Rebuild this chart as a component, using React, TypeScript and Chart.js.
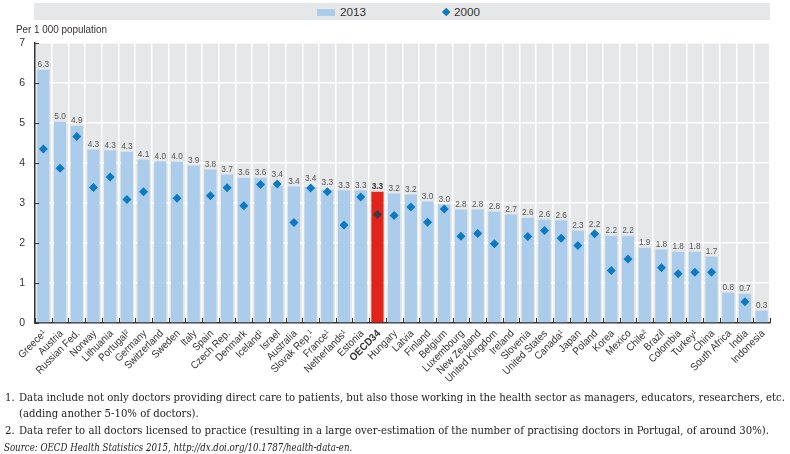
import React, { useEffect, useRef } from "react";
import { Chart, registerables } from "chart.js";

Chart.register(...registerables);

const countries = [
  "Greece¹", "Austria", "Russian Fed.", "Norway", "Lithuania", "Portugal²", "Germany",
  "Switzerland", "Sweden", "Italy", "Spain", "Czech Rep.", "Denmark", "Iceland¹", "Israel",
  "Australia", "Slovak Rep.¹", "France¹", "Netherlands¹", "Estonia", "OECD34", "Hungary",
  "Latvia", "Finland", "Belgium", "Luxembourg", "New Zealand", "United Kingdom", "Ireland",
  "Slovenia", "United States", "Canada¹", "Japan", "Poland", "Korea", "Mexico", "Chile²",
  "Brazil", "Colombia", "Turkey¹", "China", "South Africa", "India", "Indonesia",
];

const values2013 = [
  6.33, 5.03, 4.93, 4.34, 4.32, 4.28, 4.09, 4.04, 4.03, 3.94, 3.84, 3.71, 3.63, 3.63, 3.42,
  3.41, 3.4, 3.33, 3.32, 3.32, 3.28, 3.24, 3.21, 3.04, 2.96, 2.84, 2.84, 2.79, 2.71, 2.63,
  2.59, 2.57, 2.31, 2.22, 2.18, 2.18, 1.88, 1.84, 1.78, 1.78, 1.66, 0.76, 0.73, 0.31,
];

const values2000: (number | null)[] = [
  4.35, 3.87, 4.66, 3.39, 3.65, 3.09, 3.28, null, 3.12, null, 3.18, 3.38, 2.93, 3.46, 3.475,
  2.51, 3.375, 3.28, 2.45, 3.15, 2.71, 2.69, 2.9, 2.52, 2.85, 2.17, 2.24, 1.98, null, 2.16,
  2.31, 2.12, 1.94, 2.23, 1.31, 1.6, null, 1.38, 1.23, 1.27, 1.27, null, 0.53, null,
];

const seriesNames = ["2013", "2000"];
const yMin = 0;
const yMax = 7;
const yStep = 1;
const highlight = "OECD34";
const yTitle = "Per 1 000 population";
const notes = [
  "Data include not only doctors providing direct care to patients, but also those working in the health sector as managers, educators, researchers, etc.",
  "(adding another 5-10% of doctors).",
  "Data refer to all doctors licensed to practice (resulting in a large over-estimation of the number of practising doctors in Portugal, of around 30%).",
];
const sourceText = "Source:  OECD Health Statistics 2015, http://dx.doi.org/10.1787/health-data-en.";

const SANS = "'Liberation Sans', Arial, sans-serif";
const SERIF = "'DejaVu Serif Condensed', 'DejaVu Serif', 'Liberation Serif', serif";
const BAR = "#abcdeb";
const BAR_HI = "#e2231a";
const DIAM = "#0b7ac1";
const DIAM_HI = "#3c3c3c";
const PLOT_BG = "#e6e7e8";
const AXIS = "#333333";

function measure(text: string, font: string): number {
  const c = document.createElement("canvas").getContext("2d");
  if (!c) return 0;
  c.font = font;
  return c.measureText(text).width;
}

function scaleFor(text: string, font: string, target: number): number {
  const w = measure(text, font);
  return w > 0 ? target / w : 1;
}

export default function App() {
  const ref = useRef<HTMLCanvasElement>(null);

  const titleFont = `10.5px ${SANS}`;
  const titleScale = scaleFor(yTitle, titleFont, 91);
  const legendFont = `11px ${SANS}`;
  const legendScale = scaleFor("2013", legendFont, 26);
  const noteFont = `11.5px ${SERIF}`;
  const noteScale = scaleFor(notes[0], noteFont, 766);
  const sourceFont = `italic 11.5px ${SERIF}`;
  const sourceScale = scaleFor(sourceText, sourceFont, 351);

  useEffect(() => {
    const canvas = ref.current;
    if (!canvas) return;
    const hi = countries.indexOf(highlight);
    const xFont = `10.5px ${SANS}`;
    const xFontBold = `bold 10.5px ${SANS}`;
    const xScale = scaleFor("United Kingdom", xFont, 69);
    const bFont = `9.5px ${SANS}`;
    const bFontBold = `bold 9.5px ${SANS}`;
    const bScale = scaleFor("6.3", bFont, 11.5);

    const decor = {
      id: "decor",
      beforeDraw(chart: any) {
        const { ctx, chartArea } = chart;
        const { left, top, right, bottom } = chartArea;
        ctx.save();
        ctx.fillStyle = PLOT_BG;
        ctx.fillRect(left, top, right - left, bottom - top);
        ctx.restore();
      },
      afterDatasetsDraw(chart: any) {
        const { ctx } = chart;
        const mBar = chart.getDatasetMeta(1);
        const mPt = chart.getDatasetMeta(0);
        ctx.save();
        ctx.textAlign = "center";
        ctx.textBaseline = "bottom";
        for (let i = 0; i < countries.length; i++) {
          const bar = mBar.data[i];
          if (!bar) continue;
          let top = bar.y;
          if (values2000[i] != null && mPt.data[i]) {
            top = Math.min(top, mPt.data[i].y - 4.5);
          }
          ctx.save();
          ctx.translate(bar.x, top - 0.5);
          ctx.scale(bScale, 1);
          ctx.fillStyle = i === hi ? "#333" : "#555";
          ctx.font = i === hi ? bFontBold : bFont;
          ctx.fillText(values2013[i].toFixed(1), 0, 0);
          ctx.restore();
        }
        ctx.restore();
      },
      afterDraw(chart: any) {
        const { ctx, chartArea, scales } = chart;
        const { left, bottom } = chartArea;
        ctx.save();
        ctx.strokeStyle = AXIS;
        ctx.lineWidth = 1;
        const n = countries.length;
        const w = (chartArea.right - left) / n;
        for (let i = 0; i <= n; i++) {
          const x = Math.round(left + i * w) + 0.5;
          ctx.beginPath();
          ctx.moveTo(x, bottom);
          ctx.lineTo(x, bottom - 5);
          ctx.stroke();
        }
        const ys = scales.y;
        for (let v = yMin; v <= yMax; v += yStep) {
          const y = Math.round(ys.getPixelForValue(v)) + 0.5;
          ctx.beginPath();
          ctx.moveTo(left, y);
          ctx.lineTo(left + 4, y);
          ctx.stroke();
        }
        // rotated category labels (narrow)
        const xs = scales.x;
        ctx.fillStyle = "#333";
        ctx.textAlign = "right";
        ctx.textBaseline = "middle";
        for (let i = 0; i < n; i++) {
          const px = xs.getPixelForValue(i);
          ctx.save();
          ctx.translate(px + 1.5, bottom + 9);
          ctx.rotate(-Math.PI / 4);
          ctx.scale(xScale, 1);
          ctx.font = i === hi ? xFontBold : xFont;
          ctx.fillText(countries[i], 0, 0);
          ctx.restore();
        }
        ctx.restore();
      },
    };

    const chart = new Chart(canvas, {
      type: "bar",
      data: {
        labels: countries,
        datasets: [
          {
            type: "line",
            label: seriesNames[1],
            data: values2000 as any,
            showLine: false,
            pointStyle: "rectRot",
            pointRadius: 4.5,
            pointBackgroundColor: countries.map((_, i) => (i === hi ? DIAM_HI : DIAM)),
            pointBorderWidth: 0,
            borderWidth: 0,
            order: 0,
          } as any,
          {
            type: "bar",
            label: seriesNames[0],
            data: values2013,
            backgroundColor: countries.map((_, i) => (i === hi ? BAR_HI : BAR)),
            barPercentage: 0.73,
            categoryPercentage: 1,
            order: 1,
          },
        ],
      },
      options: {
        animation: false,
        responsive: false,
        maintainAspectRatio: false,
        devicePixelRatio: 1,
        layout: { padding: { left: 0, right: 20, top: 43, bottom: 0 } },
        plugins: {
          legend: { display: false },
          tooltip: { enabled: false },
        },
        scales: {
          x: {
            offset: true,
            grid: { color: "#ffffff", lineWidth: 1.5, drawTicks: false, offset: true },
            border: { color: AXIS, width: 1.5 },
            ticks: { display: false, autoSkip: false },
            afterFit: (s: any) => {
              s.height = 131;
            },
          },
          y: {
            min: yMin,
            max: yMax,
            grid: { color: "#ffffff", lineWidth: 1.5, drawTicks: false },
            border: { color: AXIS, width: 1.5 },
            ticks: {
              stepSize: yStep,
              padding: 10,
              color: "#333",
              font: { family: SANS, size: 10.5 },
            },
            afterFit: (s: any) => {
              s.width = 35;
            },
          },
        },
      },
      plugins: [decor],
    });

    return () => chart.destroy();
  }, []);

  const sansText = (font: string, scale: number): React.CSSProperties => ({
    position: "absolute",
    font,
    color: "#333",
    whiteSpace: "nowrap",
    lineHeight: "14px",
    transform: `scaleX(${scale})`,
    transformOrigin: "left top",
  });
  const serifText = (font: string, scale: number): React.CSSProperties => ({
    position: "absolute",
    font,
    color: "#222",
    whiteSpace: "nowrap",
    lineHeight: "14px",
    transform: `scaleX(${scale})`,
    transformOrigin: "left top",
  });
  const noteStyle = serifText(noteFont, noteScale);

  return (
    <div style={{ position: "absolute", left: 0, top: 0, width: 790, height: 454, background: "#fff", overflow: "hidden" }}>
      <canvas ref={ref} width={790} height={454} style={{ display: "block", position: "absolute", left: 0, top: 0 }} />
      <div style={{ position: "absolute", left: 34, top: 3, width: 736, height: 17, background: PLOT_BG }} />
      <div style={{ position: "absolute", left: 317, top: 9, width: 18, height: 7, background: BAR }} />
      <div style={{ ...sansText(legendFont, legendScale), left: 340, top: 5 }}>{seriesNames[0]}</div>
      <div
        style={{
          position: "absolute",
          left: 446 - 3.2,
          top: 12 - 3.2,
          width: 6.4,
          height: 6.4,
          background: DIAM,
          transform: "rotate(45deg)",
        }}
      />
      <div style={{ ...sansText(legendFont, legendScale), left: 454, top: 5 }}>{seriesNames[1]}</div>
      <div style={{ ...sansText(titleFont, titleScale), left: 16, top: 22 }}>{yTitle}</div>

      <div style={{ ...noteStyle, left: 5, top: 390 }}>1.</div>
      <div style={{ ...noteStyle, left: 19, top: 390 }}>{notes[0]}</div>
      <div style={{ ...noteStyle, left: 19, top: 406 }}>{notes[1]}</div>
      <div style={{ ...noteStyle, left: 5, top: 423 }}>2.</div>
      <div style={{ ...noteStyle, left: 19, top: 423 }}>{notes[2]}</div>
      <div style={{ ...serifText(sourceFont, sourceScale), left: 4, top: 440 }}>{sourceText}</div>
    </div>
  );
}
